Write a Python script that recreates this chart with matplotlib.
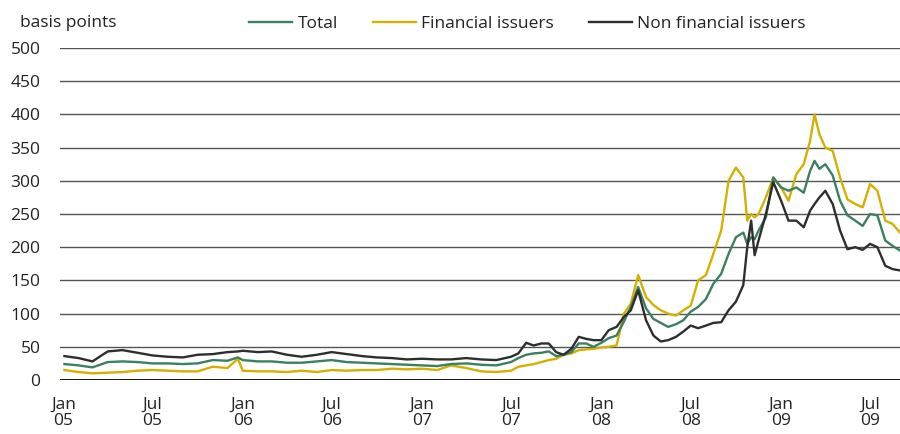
import matplotlib
matplotlib.use("Agg")
import matplotlib.pyplot as plt
import pandas as pd

# spread vs. swap, basis points
dates = [
    "2005-01-03", "2005-02-01", "2005-03-01", "2005-04-01", "2005-05-01", "2005-06-01",
    "2005-07-01", "2005-08-01", "2005-09-01", "2005-10-01", "2005-11-01", "2005-12-01",
    "2005-12-22", "2006-01-01", "2006-02-01", "2006-03-01", "2006-04-01", "2006-05-01",
    "2006-06-01", "2006-07-01", "2006-08-01", "2006-09-01", "2006-10-01", "2006-11-01",
    "2006-12-01", "2007-01-01", "2007-02-01", "2007-03-01", "2007-04-01", "2007-05-01",
    "2007-06-01", "2007-07-01", "2007-07-16", "2007-08-01", "2007-08-16", "2007-09-01",
    "2007-09-16", "2007-10-01", "2007-10-16", "2007-11-01", "2007-11-16", "2007-12-01",
    "2007-12-16", "2008-01-01", "2008-01-16", "2008-02-01", "2008-02-16", "2008-03-01",
    "2008-03-16", "2008-04-01", "2008-04-16", "2008-05-01", "2008-05-16", "2008-06-01",
    "2008-06-16", "2008-07-01", "2008-07-16", "2008-08-01", "2008-08-16", "2008-09-01",
    "2008-09-16", "2008-10-01", "2008-10-16", "2008-10-24", "2008-11-01", "2008-11-08",
    "2008-11-16", "2008-12-01", "2008-12-16", "2009-01-01", "2009-01-16", "2009-02-01",
    "2009-02-16", "2009-03-01", "2009-03-10", "2009-03-20", "2009-04-01", "2009-04-16",
    "2009-05-01", "2009-05-16", "2009-06-01", "2009-06-16", "2009-07-01", "2009-07-16",
    "2009-08-01", "2009-08-16", "2009-08-31",
]
total = [
    24, 22, 19, 27, 28, 27, 25, 25, 24, 25, 30, 29,
    34, 30, 28, 28, 26, 26, 28, 30, 27, 26, 25, 24,
    23, 22, 21, 24, 25, 23, 22, 27, 33, 38, 40, 41,
    43, 36, 38, 42, 55, 55, 50, 56, 63, 67, 88, 110,
    140, 108, 92, 86, 80, 84, 90, 103, 110, 122, 145, 160,
    190, 215, 222, 205, 215, 212, 225, 245, 305, 290, 285, 290,
    282, 315, 330, 318, 325, 308, 270, 248, 240, 232, 250, 248,
    210, 202, 195,
]
financial = [
    15, 12, 10, 11, 12, 14, 15, 14, 13, 13, 20, 18,
    32, 14, 13, 13, 12, 14, 12, 15, 14, 15, 15, 17,
    16, 17, 15, 22, 18, 13, 12, 14, 20, 22, 24, 27,
    30, 32, 38, 40, 45, 46, 47, 49, 50, 52, 100, 115,
    158, 125, 113, 105, 100, 97, 105, 112, 150, 158, 190, 225,
    300, 320, 305, 240, 250, 245, 250, 275, 305, 290, 270, 310,
    325, 360, 400, 370, 350, 345, 305, 272, 265, 260, 295, 285,
    240, 235, 222,
]
non_financial = [
    36, 33, 28, 43, 45, 41, 37, 35, 34, 38, 39, 42,
    43, 44, 42, 43, 38, 35, 38, 42, 39, 36, 34, 33,
    31, 32, 31, 31, 33, 31, 30, 35, 40, 56, 52, 55,
    55, 42, 38, 47, 65, 62, 60, 60, 75, 80, 95, 105,
    135, 90, 67, 58, 60, 65, 73, 82, 78, 82, 86, 87,
    105, 118, 143, 200, 240, 188, 210, 250, 298, 270, 240, 240,
    230, 255, 265, 275, 285, 265, 225, 197, 200, 196, 205, 200,
    172, 167, 165,
]
tick_dates = ["2005-01-01", "2005-07-01", "2006-01-01", "2006-07-01", "2007-01-01",
              "2007-07-01", "2008-01-01", "2008-07-01", "2009-01-01", "2009-07-01"]
tick_labels = ["Jan\n05", "Jul\n05", "Jan\n06", "Jul\n06", "Jan\n07",
               "Jul\n07", "Jan\n08", "Jul\n08", "Jan\n09", "Jul\n09"]

plt.rcParams['font.family'] = ['Open Sans', 'DejaVu Sans']
txt = '#222222'

x = pd.to_datetime(dates)
fig = plt.figure(figsize=(9, 4.34), dpi=100)
ax = fig.add_axes([60 / 900, 1 - 380 / 434, 840 / 900, 332 / 434])

for v in range(50, 501, 50):
    ax.axhline(v, color='#555555', lw=1.0, zorder=1)
ax.axhline(0, color='black', lw=2.0, zorder=1)

ax.plot(x, total, color='#3b8060', lw=1.7, label='Total', zorder=3)
ax.plot(x, financial, color='#d4b000', lw=1.7, label='Financial issuers', zorder=2)
ax.plot(x, non_financial, color='#2e2e2e', lw=1.7, label='Non financial issuers', zorder=4)

ax.set_ylim(0, 500)
ax.set_xlim(pd.Timestamp("2004-12-25"), pd.Timestamp("2009-08-31"))
ax.set_yticks(range(0, 501, 50))
ax.set_xticks(pd.to_datetime(tick_dates))
ax.set_xticklabels(tick_labels, linespacing=1.05)
ax.tick_params(axis='both', length=0, labelsize=12.5, colors=txt)
ax.tick_params(axis='y', pad=14)
ax.tick_params(axis='x', pad=12)
for s in ax.spines.values():
    s.set_visible(False)

fig.text(20 / 900, 1 - 27 / 434, "basis points", fontsize=12.5, color=txt)

leg = ax.legend(loc='lower left', bbox_to_anchor=(249 / 900, 1 - 32 / 434),
                bbox_transform=fig.transFigure, ncol=3, frameon=False,
                fontsize=12.5, handlelength=2.5, handletextpad=0.3,
                columnspacing=2.0, borderaxespad=0, borderpad=0)
for t in leg.get_texts():
    t.set_color(txt)

fig.savefig("out.png", dpi=100)
